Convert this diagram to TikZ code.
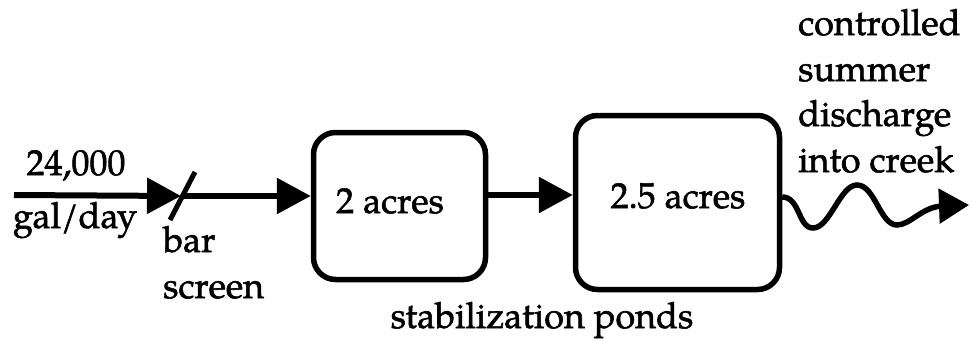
\documentclass[tikz,border=0pt]{standalone}
\usepackage{fontspec}
\setmainfont{TeX Gyre Pagella}[FakeBold=1.6]
\usetikzlibrary{arrows.meta}
\begin{document}
\begin{tikzpicture}[x=1pt,y=-1pt,
  txt/.style={inner sep=0pt,font=\fontsize{36}{40}\selectfont},
  pond/.style={draw,line width=5.5pt,rounded corners=22pt,inner sep=0pt},
  flow/.style={line width=6pt,-{Triangle[length=34pt,width=35pt]}},
  wavy/.style={line width=5.5pt,-{Triangle[length=30pt,width=34pt]}}]
\useasboundingbox (0,0) rectangle (971,340);
% ponds
\node[pond,minimum width=172pt,minimum height=147pt] (p1) at (399.5,206) {};
\node[pond,minimum width=204pt,minimum height=174pt] (p2) at (677.5,202.5) {};
\node[txt,anchor=base] (t1) at (390,213) {2 acres};
\node[txt,anchor=base] (t2) at (678,208) {2.5 acres};
% coordinates
\coordinate (in) at (14,195);
\coordinate (bar) at (181,196);
\coordinate (mid) at (0,195);
\coordinate (out) at (0,197);
\coordinate (tip) at (969,205);
\coordinate (bstop) at (195,172);
\coordinate (bsbot) at (170,220);
% connectors
\draw[flow] (in) -- (bar);
\draw[flow] (bar) -- (bar -| p1.west);
\draw[line width=5pt] (bstop) -- (bsbot);
\draw[flow] (p1.east |- mid) -- (p2.west |- mid);
\draw[wavy] (p2.east |- out) .. controls (800,197) and (798,228) .. (813,228)
  .. controls (830,228) and (840,185) .. (857,185)
  .. controls (875,185) and (880,225) .. (897,225)
  .. controls (910,225) and (922,207) .. (942,206) -- (tip);
% labels
\node[txt,anchor=base] (flowa) at (76,175) {24,000};
\node[txt,anchor=base] (flowb) at (75,228) {gal/day};
\node[txt,anchor=base west] (bs1) at (163,252) {bar};
\node[txt,anchor=base west] (bs2) at (163,298) {screen};
\node[txt,anchor=base] (sp) at (542,328) {stabilization ponds};
\node[txt,anchor=base west] (c1) at (798,35) {controlled};
\node[txt,anchor=base west] (c2) at (798,81) {summer};
\node[txt,anchor=base west] (c3) at (798,126) {discharge};
\node[txt,anchor=base west] (c4) at (798,172) {into creek};
\end{tikzpicture}
\end{document}
